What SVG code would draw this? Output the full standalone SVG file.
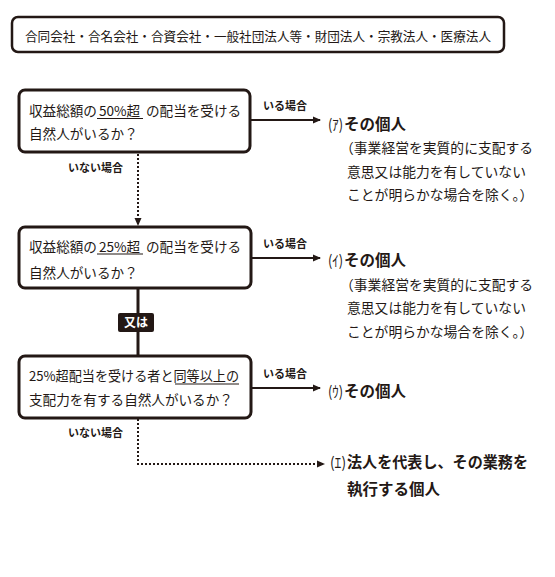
<svg xmlns="http://www.w3.org/2000/svg" width="555" height="577" viewBox="0 0 555 577">
<style>
text{font-family:"Noto Sans CJK JP","Noto Sans",sans-serif;fill:#231815}
.box{fill:#fff;stroke:#231815;stroke-width:3}
.q{font-size:13.6px}
.lab{font-size:11px;font-weight:bold}
.res{font-size:15.5px;font-weight:bold}
.pk{font-size:15px}
.note{font-size:13.8px}
.ul{stroke:#231815;stroke-width:1.2}
.solid{stroke:#231815;stroke-width:2;fill:none}
.dot{stroke:#231815;stroke-width:2;fill:none;stroke-dasharray:2 2}
</style>
<defs>
<marker id="ah" viewBox="0 0 8 8" refX="7" refY="4" markerWidth="8" markerHeight="8" markerUnits="userSpaceOnUse" orient="auto">
<path d="M0,0.5 L8,4 L0,7.5 Z" fill="#231815"/>
</marker>
</defs>
<g id="header">
<rect x="12" y="17" width="492" height="35" rx="6" fill="#fff" stroke="#231815" stroke-width="2.5"/>
<text x="25" y="41" font-size="12.6" textLength="466" lengthAdjust="spacingAndGlyphs">合同会社・合名会社・合資会社・一般社団法人等・財団法人・宗教法人・医療法人</text>
</g>
<g id="connectors">
<line class="solid" x1="251" y1="120" x2="320" y2="120" marker-end="url(#ah)"/>
<line class="solid" x1="251" y1="258" x2="320" y2="258" marker-end="url(#ah)"/>
<line class="solid" x1="251" y1="388" x2="320" y2="388" marker-end="url(#ah)"/>
<line class="dot" x1="138" y1="154" x2="138" y2="225" marker-end="url(#ah)"/>
<line x1="138" y1="288" x2="138" y2="356" stroke="#231815" stroke-width="3"/>
<polyline class="dot" points="138,419 138,464 324,464" marker-end="url(#ah)"/>
<text class="lab" x="263" y="110">いる場合</text>
<text class="lab" x="263" y="248">いる場合</text>
<text class="lab" x="263" y="378">いる場合</text>
<text class="lab" x="68" y="172">いない場合</text>
<text class="lab" x="68" y="437">いない場合</text>
<g id="or-label">
<rect x="118" y="313" width="36" height="19" rx="2" fill="#231815"/>
<text x="136" y="327" font-size="12" font-weight="bold" text-anchor="middle" style="fill:#fff">又は</text>
</g>
</g>
<g id="q1">
<rect class="box" x="19" y="90" width="231" height="62" rx="6"/>
<text class="q" y="116"><tspan x="29">収益総額の </tspan><tspan x="99">50%超 </tspan><tspan x="146">の配当を受ける</tspan></text>
<line class="ul" x1="97" y1="118.5" x2="143" y2="118.5"/>
<text class="q" x="29" y="139">自然人がいるか？</text>
</g>
<g id="q2">
<rect class="box" x="19" y="227" width="232" height="61" rx="6"/>
<text class="q" y="251.5"><tspan x="29">収益総額の </tspan><tspan x="99">25%超 </tspan><tspan x="146">の配当を受ける</tspan></text>
<line class="ul" x1="97" y1="254" x2="143" y2="254"/>
<text class="q" x="29" y="277.5">自然人がいるか？</text>
</g>
<g id="q3">
<rect class="box" x="19" y="356" width="232" height="62" rx="6"/>
<text class="q" x="29" y="381" textLength="210" lengthAdjust="spacingAndGlyphs">25%超配当を受ける者と同等以上の</text>
<line class="ul" x1="175" y1="384" x2="239" y2="384"/>
<text class="q" x="29" y="405">支配力を有する自然人がいるか？</text>
</g>
<g id="r1">
<text class="pk" x="328" y="129.5" textLength="15" lengthAdjust="spacingAndGlyphs">(ｱ)</text>
<text class="res" x="344" y="129.5">その個人</text>
<text class="note" x="340" y="153">（事業経営を実質的に支配する</text>
<text class="note" x="347" y="176.5">意思又は能力を有していない</text>
<text class="note" x="347" y="200">ことが明らかな場合を除く。）</text>
</g>
<g id="r2">
<text class="pk" x="328" y="266" textLength="15" lengthAdjust="spacingAndGlyphs">(ｲ)</text>
<text class="res" x="344" y="266">その個人</text>
<text class="note" x="340" y="289.5">（事業経営を実質的に支配する</text>
<text class="note" x="347" y="313">意思又は能力を有していない</text>
<text class="note" x="347" y="336.5">ことが明らかな場合を除く。）</text>
</g>
<g id="r3">
<text class="pk" x="328" y="397" textLength="15" lengthAdjust="spacingAndGlyphs">(ｳ)</text>
<text class="res" x="344" y="397">その個人</text>
</g>
<g id="r4">
<text class="pk" x="330" y="468" textLength="16" lengthAdjust="spacingAndGlyphs">(ｴ)</text>
<text class="res" x="347" y="468" textLength="181" lengthAdjust="spacingAndGlyphs">法人を代表し、その業務を</text>
<text class="res" x="347" y="495">執行する個人</text>
</g>
</svg>
